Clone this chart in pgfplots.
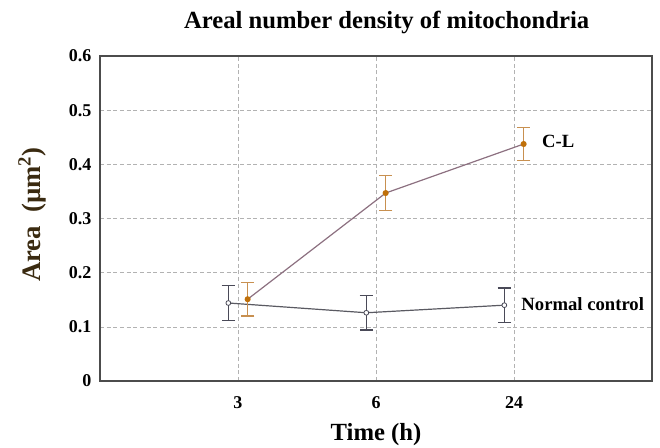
\documentclass[border=0pt]{standalone}
\usepackage{pgfplots}
\pgfplotsset{compat=1.18}
\usepackage{fontspec}
\setmainfont{Liberation Serif}
\definecolor{clline}{HTML}{8C7080}
\definecolor{clmark}{HTML}{C0700A}
\definecolor{clerr}{HTML}{C89050}
\definecolor{ncline}{HTML}{5A5A62}
\definecolor{ncerr}{HTML}{4A4A58}
\definecolor{ylab}{HTML}{3A2A10}
\begin{document}
\begin{tikzpicture}
\begin{axis}[name=ax,
  scale only axis, width=414pt, height=243.75pt,
  xmin=0, xmax=4, ymin=0, ymax=0.6,
  xtick={1,2,3}, xticklabels={3,6,24},
  ytick={0,0.1,0.2,0.3,0.4,0.5,0.6},
  yticklabels={0,0.1,0.2,0.3,0.4,0.5,0.6},
  ticklabel style={font=\bfseries\fontsize{13.5}{15}\selectfont},
  /pgf/number format/assume math mode=true,
  major tick length=0pt,
  xticklabel style={yshift=-8pt},
  yticklabel style={xshift=-3pt},
  grid=major,
  major grid style={densely dashed, gray!60, line width=0.4pt},
  axis line style={gray!60!black, line width=1pt},
  title={\bfseries\fontsize{18.5}{22}\selectfont Areal number density of mitochondria},
  title style={yshift=7pt, xshift=8pt},
  xlabel={\bfseries\fontsize{18.5}{22}\selectfont Time (h)},
  xlabel style={yshift=-4pt},
  ylabel={\bfseries\fontsize{20}{24}\selectfont Area\ \ (\textmu m$^{\mathbf{2}}$)},
  ylabel style={color=ylab, yshift=10pt, xshift=3pt},
  clip=false,
]
\addplot[color=ncline, line width=0.9pt,
  mark=*, mark size=1.8pt, mark options={fill=white, draw=ncerr, line width=0.6pt},
  error bars/.cd, y dir=both, y explicit,
  error bar style={color=ncerr, line width=1pt},
  error mark options={rotate=90, mark size=5pt, line width=1pt, color=ncerr}]
  coordinates {
  (0.93,0.144) +- (0,0.032)
  (1.93,0.126) +- (0,0.032)
  (2.93,0.140) +- (0,0.032)
};
\addplot[color=clline, line width=0.9pt,
  mark=*, mark size=1.8pt, mark options={fill=clmark, draw=clmark},
  error bars/.cd, y dir=both, y explicit,
  error bar style={color=clerr, line width=1pt},
  error mark options={rotate=90, mark size=5pt, line width=1pt, color=clerr}]
  coordinates {
  (1.07,0.151) +- (0,0.031)
  (2.07,0.347) +- (0,0.032)
  (3.07,0.4375) +- (0,0.031)
};
\node[anchor=west, font=\bfseries\fontsize{14}{16}\selectfont] at (axis cs:3.17,0.442) {C-L};
\node[anchor=west, font=\bfseries\fontsize{14}{16}\selectfont] at (axis cs:3.02,0.142) {Normal control};
\end{axis}
\pgfresetboundingbox
\path[use as bounding box] ([shift={(-75pt,-49.5pt)}]ax.south west) rectangle ([shift={(6pt,42pt)}]ax.north east);
\end{tikzpicture}
\end{document}
